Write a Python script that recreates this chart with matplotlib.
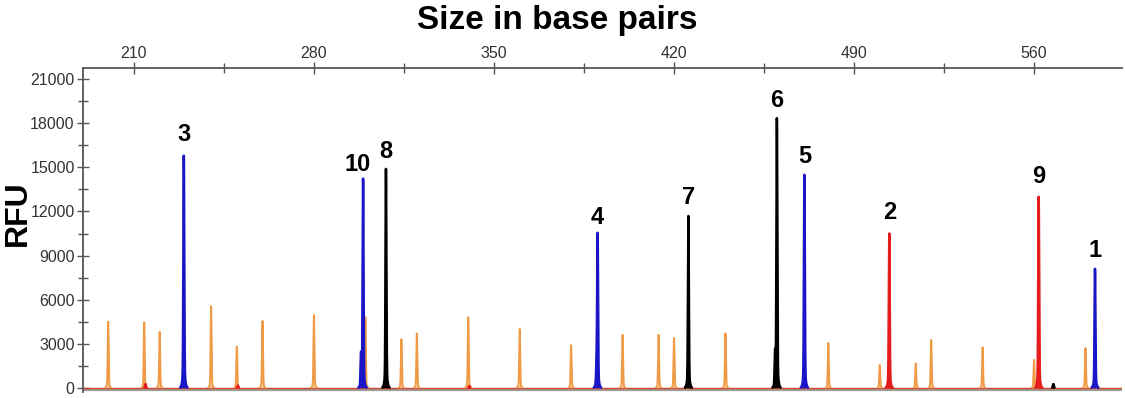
import numpy as np
import matplotlib
matplotlib.use("Agg")
import matplotlib.pyplot as plt

plt.rcParams["font.family"] = ["Liberation Sans", "DejaVu Sans"]

# ── peak tables (size in bp, height in RFU) ────────────────────────────────
blue_bp = [229.4, 298.3, 299.1, 389.9, 390.3, 470.7, 583.7]
blue_rfu = [15800, 2200, 14200, 1400, 10400, 14500, 8100]

black_bp = [308.0, 425.6, 459.3, 460.0, 567.5]
black_rfu = [14900, 11700, 2200, 18300, 250]

red_bp = [308.0, 503.7, 561.8, 214.5, 250.4, 340.4]
red_rfu = [700, 10500, 13000, 250, 150, 120]

# GS600 LIZ size standard peaks
orange_bp = [200, 214, 220, 240, 250, 260, 280, 300, 314, 320, 340, 360, 380,
             400, 414, 420, 440, 460, 480, 500, 514, 520, 540, 560, 580]
orange_rfu = [4500, 4450, 3800, 5550, 2800, 4550, 4950, 4800, 3300, 3700, 4800,
              4000, 2900, 3600, 3600, 3400, 3700, 3150, 3050, 1550, 1650, 3250,
              2750, 1900, 2700]

# labelled alleles
labels = ["3", "10", "8", "4", "7", "6", "5", "2", "9", "1"]
label_bp = [229.4, 299.1, 308.0, 390.3, 425.6, 460.0, 470.7, 503.7, 561.8, 583.7]
label_rfu = [15800, 14200, 14900, 10400, 11700, 18300, 14500, 10500, 13000, 8100]
label_dx = [0, -4, 0, 0, 0, 0, 0, 0, 0, 0]
label_dy = [7, 2, 4, 4, 5, 5, 5, 7, 6, 5]

x_ticks = [210, 280, 350, 420, 490, 560]
y_ticks = [0, 3000, 6000, 9000, 12000, 15000, 18000, 21000]

grid = np.linspace(190, 595, 40000)


def trace(centers, heights, sigma=0.17, foot=0.07, foot_sigma=0.5):
    y = np.zeros_like(grid)
    for c, h in zip(centers, heights):
        a = h / (1 + foot)
        y += a * np.exp(-0.5 * ((grid - c) / sigma) ** 2)
        y += a * foot * np.exp(-0.5 * ((grid - c) / foot_sigma) ** 2)
    return y


def masked(y, floor=30):
    return np.where(y > floor, y, np.nan)


fig = plt.figure(figsize=(11.25, 3.98), dpi=100)
ax = fig.add_axes([83 / 1125, 6 / 398, 1039 / 1125, 324 / 398])

# baseline
ax.axhline(-170, color="#a09a96", lw=1.6, zorder=1)
ax.axhline(0, color="#d2452a", lw=1.0, zorder=2)

y_or = trace(orange_bp, orange_rfu, sigma=0.18, foot=0.04, foot_sigma=0.55)
ax.fill_between(grid, 0, y_or, color="#f6b26b", alpha=0.5, lw=0, zorder=3)
ax.plot(grid, masked(y_or), color="#ef9a45", lw=1.4, zorder=3)

for bp, rfu, col in [(red_bp, red_rfu, "#e41c1c"),
                     (black_bp, black_rfu, "#000000"),
                     (blue_bp, blue_rfu, "#1a16c8")]:
    yv = trace(bp, rfu)
    ax.fill_between(grid, 0, yv, color=col, lw=0, zorder=4)
    ax.plot(grid, masked(yv), color=col, lw=1.8, zorder=4)

for lab, bp, rfu, dx, dy in zip(labels, label_bp, label_rfu, label_dx, label_dy):
    ax.annotate(lab, (bp, rfu), xytext=(dx, dy), textcoords="offset points",
                ha="center", va="bottom", fontsize=17, fontweight="bold",
                color="black", zorder=6)

ax.set_xlim(190.2, 594.2)
ax.set_ylim(-290, 21770)

ax.xaxis.tick_top()
ax.set_xticks(x_ticks)
ax.set_xticks([245, 315, 385, 455, 525], minor=True)
ax.set_yticks(y_ticks)
ax.set_yticks([1500, 4500, 7500, 10500, 13500, 16500, 19500], minor=True)
ax.tick_params(axis="both", which="both", direction="inout", color="#555555",
               width=1.0, labelsize=11.5, labelcolor="#333333")
ax.tick_params(axis="both", which="major", length=8)
ax.tick_params(axis="both", which="minor", length=7)
ax.tick_params(axis="x", pad=1)
ax.tick_params(axis="y", pad=2)

for side in ("right", "bottom"):
    ax.spines[side].set_visible(False)
for side in ("top", "left"):
    ax.spines[side].set_color("#555555")
    ax.spines[side].set_linewidth(1.3)

fig.text(557 / 1125, 1 - 21 / 398, "Size in base pairs", ha="center",
         va="center", fontsize=24, fontweight="bold")
fig.text(18 / 1125, 1 - 213 / 398, "RFU", ha="center", va="center",
         rotation=90, fontsize=23, fontweight="bold")

fig.savefig("out.png", dpi=100, facecolor="white")
